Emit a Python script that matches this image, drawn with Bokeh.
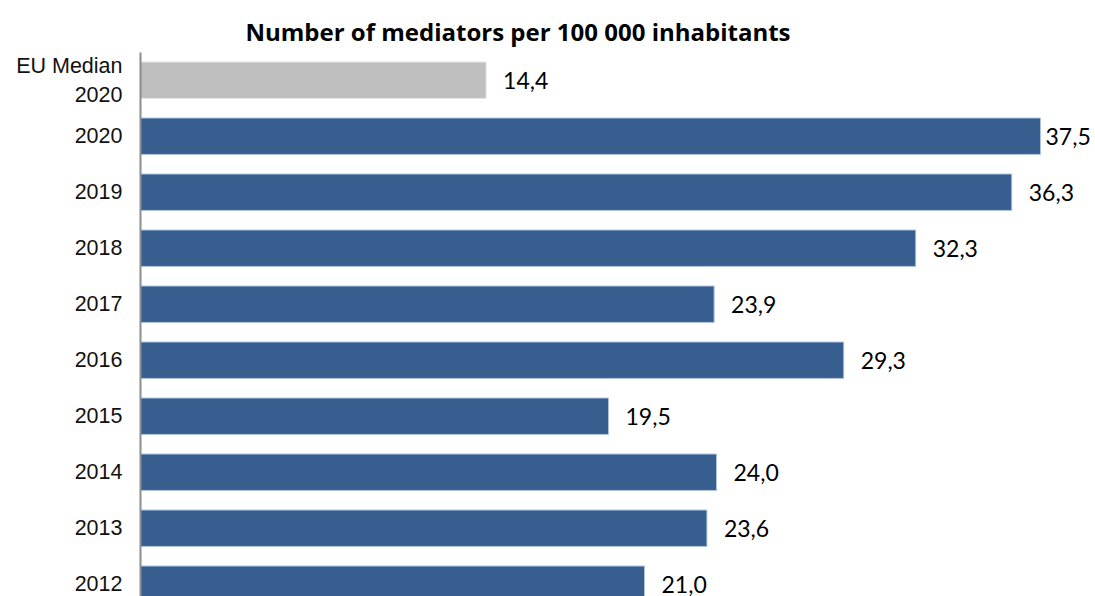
import numpy as np
from bokeh.plotting import figure
from bokeh.models import ColumnDataSource, Range1d, LabelSet
from bokeh.core.properties import value
from bokeh.embed import file_html
from bokeh.resources import INLINE

# ---- data ----
categories = ["EU Median\n2020", "2020", "2019", "2018", "2017", "2016",
              "2015", "2014", "2013", "2012"]
values = [14.4, 37.5, 36.3, 32.3, 23.9, 29.3, 19.5, 24.0, 23.6, 21.0]
title_text = "Number of mediators per 100 000 inhabitants"

# ---- styling ----
BLUE = "#365E8F"
GRAY = "#BFBFBF"
W, H = 1095, 596
LEFT, TOP = 140, 52
X_END = 39.79
px_per_unit = (W - LEFT) / X_END

pos = np.arange(len(categories))
vals = np.array(values)
colors = [GRAY] + [BLUE] * (len(values) - 1)
edge = ["#E6E6E6"] + ["#AFC3DD"] * (len(values) - 1)
labels = [f"{v:.1f}".replace(".", ",") for v in values]
offsets = np.minimum(17, (X_END - vals) * px_per_unit - 50)

src = ColumnDataSource(dict(y=pos, right=vals, color=colors, edge=edge,
                            label=labels, xo=offsets))

p = figure(width=W, height=H, output_backend="svg", toolbar_location=None,
           x_range=Range1d(0, X_END), y_range=Range1d(9.219, -0.495),
           x_axis_location=None,
           min_border_left=LEFT, min_border_top=TOP,
           min_border_right=0, min_border_bottom=0)
p.outline_line_color = None
p.grid.visible = False
p.background_fill_color = "white"

p.title.text = title_text
p.title.text_font = "Open Sans"
p.title.text_font_style = "bold"
p.title.text_font_size = "24px"
p.title.text_color = "#000000"
p.title.align = "left"
p.title.offset = 105
p.title.standoff = 9

p.hbar(y="y", right="right", left=0, height=0.65, source=src,
       fill_color="color", line_color="edge", line_width=1)

lbl = LabelSet(x="right", y="y", text="label", x_offset="xo", y_offset=0,
               source=src, text_font=value("Lato"), text_font_size="23px",
               text_baseline="middle", text_align="left", text_color="#000000")
p.add_layout(lbl)

ax = p.yaxis[0]
ax.ticker = list(pos)
ax.major_label_overrides = {int(i): c for i, c in zip(pos, categories)}
ax.major_label_text_font = "Liberation Sans"
ax.major_label_text_font_size = "21.5px"
ax.major_label_text_color = "#111111"
ax.major_label_standoff = 18
ax.major_tick_out = 0
ax.major_tick_in = 0
ax.minor_tick_out = 0
ax.minor_tick_in = 0
ax.axis_line_color = "#8C8C8C"
ax.axis_line_width = 2

open("out.html", "w").write(file_html(p, INLINE))
